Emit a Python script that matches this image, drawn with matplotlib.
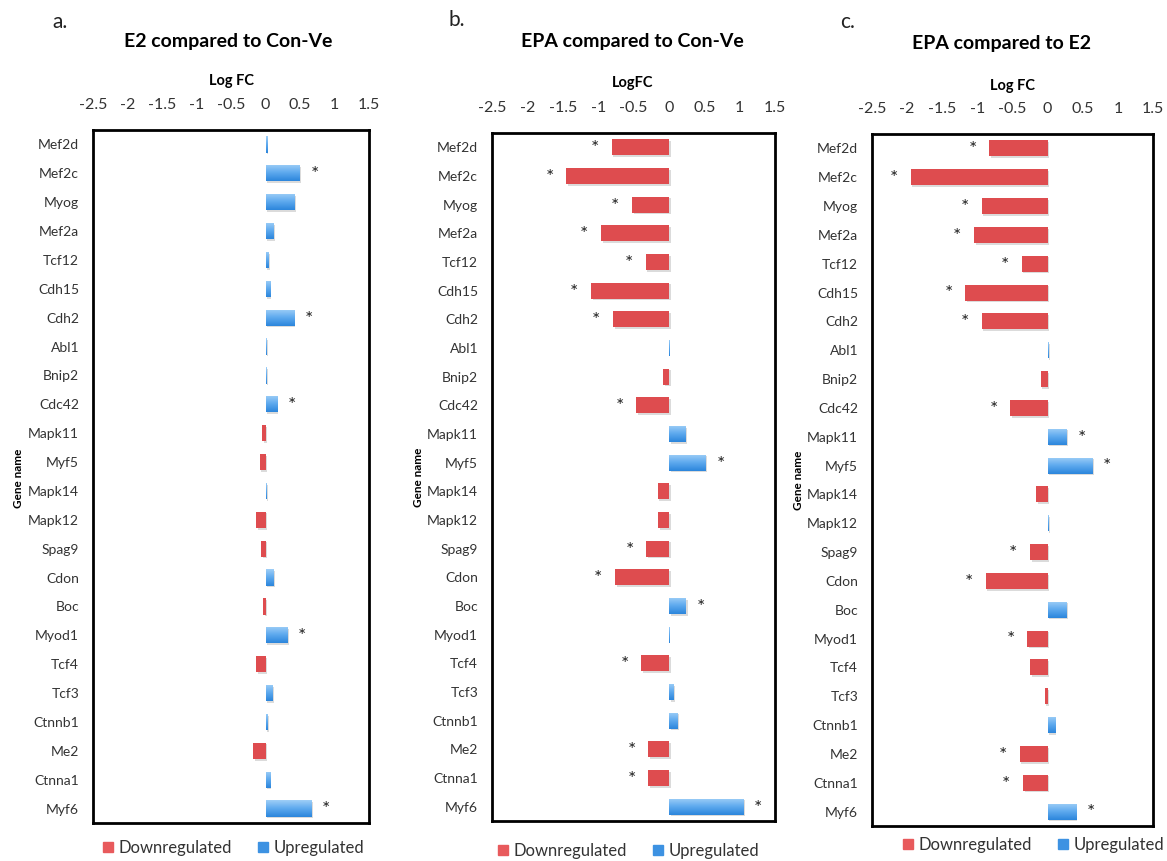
import numpy as np
import matplotlib
matplotlib.use("Agg")
import matplotlib.pyplot as plt
from matplotlib.colors import LinearSegmentedColormap
from matplotlib.lines import Line2D
import matplotlib.patheffects as pe

plt.rcParams['font.family'] = ['Lato', 'DejaVu Sans']

genes = ["Mef2d", "Mef2c", "Myog", "Mef2a", "Tcf12", "Cdh15", "Cdh2", "Abl1",
         "Bnip2", "Cdc42", "Mapk11", "Myf5", "Mapk14", "Mapk12", "Spag9", "Cdon",
         "Boc", "Myod1", "Tcf4", "Tcf3", "Ctnnb1", "Me2", "Ctnna1", "Myf6"]

# log fold changes
e2_vs_con = [0.015, 0.49, 0.42, 0.11, 0.035, 0.06, 0.41, 0.01,
             0.01, 0.16, -0.05, -0.085, 0.01, -0.14, -0.065, 0.11,
             -0.03, 0.31, -0.14, 0.10, 0.02, -0.18, 0.06, 0.66]
epa_vs_con = [-0.81, -1.45, -0.52, -0.96, -0.33, -1.10, -0.79, 0.012,
              -0.085, -0.46, 0.23, 0.52, -0.16, -0.15, -0.32, -0.76,
              0.24, 0.01, -0.39, 0.06, 0.12, -0.29, -0.29, 1.05]
epa_vs_e2 = [-0.83, -1.95, -0.94, -1.05, -0.37, -1.17, -0.94, 0.01,
             -0.10, -0.53, 0.27, 0.63, -0.16, 0.01, -0.25, -0.88,
             0.27, -0.29, -0.245, -0.04, 0.10, -0.40, -0.35, 0.40]

sig_a = ["Mef2c", "Cdh2", "Cdc42", "Myod1", "Myf6"]
sig_b = ["Mef2d", "Mef2c", "Myog", "Mef2a", "Tcf12", "Cdh15", "Cdh2", "Cdc42",
         "Myf5", "Spag9", "Cdon", "Boc", "Tcf4", "Me2", "Ctnna1", "Myf6"]
sig_c = ["Mef2d", "Mef2c", "Myog", "Mef2a", "Tcf12", "Cdh15", "Cdh2", "Cdc42",
         "Mapk11", "Myf5", "Spag9", "Cdon", "Myod1", "Me2", "Ctnna1", "Myf6"]

xticks = [-2.5, -2, -1.5, -1, -0.5, 0, 0.5, 1, 1.5]
xtick_labels = ["-2.5", "-2", "-1.5", "-1", "-0.5", "0", "0.5", "1", "1.5"]

RED = "#DE4C4F"
blue_cmap = LinearSegmentedColormap.from_list("bl", ["#9ECEF7", "#5DA9EE", "#2C86DC"])

W, H = 1167, 861
fig = plt.figure(figsize=(W / 100, H / 100), dpi=100)


def px(x, y):
    return x / W, 1 - y / H


def rect(x0, y0, x1, y1):
    return [x0 / W, 1 - y1 / H, (x1 - x0) / W, (y1 - y0) / H]


panels = [
    dict(vals=e2_vs_con, sig=sig_a, box=(93, 130, 369, 823), letter="a.", lpos=(60, 22),
         title="E2 compared to Con-Ve", tpos=(228, 42), xlab="Log FC", xlpos=(231, 81),
         gpos=(18, 478), legy=848, legx=232),
    dict(vals=epa_vs_con, sig=sig_b, box=(492, 133, 775, 821), letter="b.", lpos=(457, 20),
         title="EPA compared to Con-Ve", tpos=(632, 42), xlab="LogFC", xlpos=(633, 83),
         gpos=(418, 477), legy=851, legx=627),
    dict(vals=epa_vs_e2, sig=sig_c, box=(872, 134, 1153, 826), letter="c.", lpos=(848, 22),
         title="EPA compared to E2", tpos=(1002, 43), xlab="Log FC", xlpos=(1013, 86),
         gpos=(798, 480), legy=845, legx=1032),
]

n = len(genes)
ypos = np.arange(n)
bh = 0.56

for p in panels:
    ax = fig.add_axes(rect(*p["box"]))
    vals = np.array(p["vals"])
    colors = [RED if v < 0 else "#4A9BE6" for v in vals]
    bars = ax.barh(ypos, vals, height=bh, color=colors, linewidth=0, zorder=2)
    for b, v, y in zip(bars, vals, ypos):
        b.set_path_effects([pe.SimplePatchShadow(offset=(1.2, -1.2), shadow_rgbFace="#888888", alpha=0.3), pe.Normal()])
        if v > 0:
            grad = np.linspace(0, 1, 50).reshape(-1, 1)
            im = ax.imshow(grad, cmap=blue_cmap, aspect="auto", origin="upper",
                           extent=(0, v, y + bh / 2, y - bh / 2), zorder=3)
            im.set_clip_path(b)
    for g, v, y in zip(genes, vals, ypos):
        if g in p["sig"]:
            ax.annotate("*", (v, y), xytext=(11 if v > 0 else -12, -1), textcoords="offset points",
                        ha="center", va="center", fontsize=14, color="#222222")
    ax.set_xlim(-2.5, 1.5)
    ax.set_ylim(n - 0.5, -0.5)
    ax.set_yticks(ypos)
    ax.set_yticklabels(genes, fontsize=10, color="#333333")
    ax.xaxis.tick_top()
    ax.set_xticks(xticks)
    ax.set_xticklabels(xtick_labels, fontsize=11.5, color="#333333")
    ax.tick_params(axis="x", length=0, pad=13)
    ax.tick_params(axis="y", length=0, pad=10)
    for s in ax.spines.values():
        s.set_linewidth(2.0)
        s.set_color("black")

    fig.text(*px(*p["lpos"]), p["letter"], fontsize=15, ha="center", va="center", color="#222222")
    fig.text(*px(*p["tpos"]), p["title"], fontsize=14, fontweight="bold", ha="center", va="center")
    fig.text(*px(*p["xlpos"]), p["xlab"], fontsize=10.5, fontweight="bold", ha="center", va="center")
    fig.text(*px(*p["gpos"]), "Gene name", fontsize=8.5, fontweight="bold", rotation=90,
             ha="center", va="center")

    handles = [Line2D([], [], marker="s", linestyle="none", markersize=7, color="#E85A5C"),
               Line2D([], [], marker="s", linestyle="none", markersize=7, color="#3D92E2")]
    fig.legend(handles, ["Downregulated", "Upregulated"], loc="center",
               bbox_to_anchor=px(p["legx"], p["legy"]), ncol=2, frameon=False,
               fontsize=12, handletextpad=0.1, columnspacing=1.4, handlelength=1.0,
               labelcolor="#333333")

fig.savefig("out.png", dpi=100)
